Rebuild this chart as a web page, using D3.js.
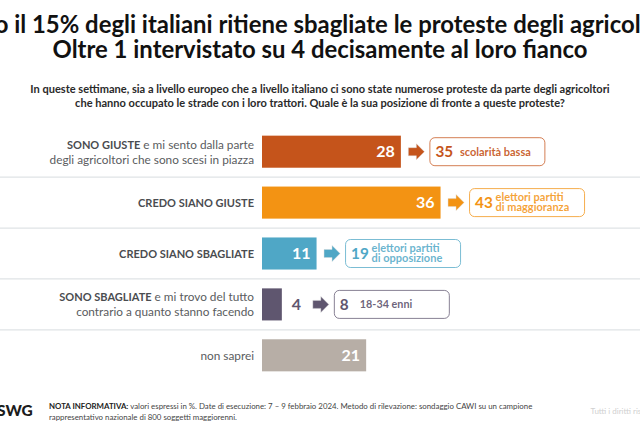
<!DOCTYPE html>
<html><head><meta charset="utf-8">
<script src="https://cdn.jsdelivr.net/npm/d3@7/dist/d3.min.js"></script>
<style>html,body{margin:0;padding:0;background:#fff;overflow:hidden}svg{display:block}text{font-family:Lato,"Open Sans",sans-serif}</style>
</head><body><svg id="c" width="640" height="431"></svg>
<script>
const categories=["SONO GIUSTE","CREDO SIANO GIUSTE","CREDO SIANO SBAGLIATE","SONO SBAGLIATE","non saprei"];
const labelBold=[["SONO GIUSTE"],["CREDO SIANO GIUSTE"],["CREDO SIANO SBAGLIATE"],["SONO SBAGLIATE"],[""]];
const labelLines=[[" e mi sento dalla parte","degli agricoltori che sono scesi in piazza"],[""],[""],[" e mi trovo del tutto","contrario a quanto stanno facendo"],["non saprei"]];
const values=[28,36,11,4,21];
const colors=["#c5541b","#f39313","#4fa7c6","#5f566f","#b7aea6"];
const calloutValues=[35,43,19,8,null];
const calloutLabels=[["scolarità bassa"],["elettori partiti","di maggioranza"],["elettori partiti","di opposizione"],["18-34 enni"],null];
const titleLines=["Solo il 15% degli italiani ritiene sbagliate le proteste degli agricoltori","Oltre 1 intervistato su 4 decisamente al loro fianco"];
const questionLines=["In queste settimane, sia a livello europeo che a livello italiano ci sono state numerose proteste da parte degli agricoltori","che hanno occupato le strade con i loro trattori. Quale è la sua posizione di fronte a queste proteste?"];
const noteBold="NOTA INFORMATIVA:";
const noteLines=[" valori espressi in %. Date di esecuzione: 7 – 9 febbraio 2024. Metodo di rilevazione: sondaggio CAWI su un campione","rappresentativo nazionale di 800 soggetti maggiorenni."];

const svg=d3.select("#c");
const x=d3.scaleLinear().domain([0,100]).range([262,758]);
const y=d3.scaleBand().domain(categories).range([127,380]).paddingInner(0.37).paddingOuter(0.17);
const bw=y.bandwidth();
const step=y.step();

const title=svg.append("text").attr("y",33).attr("text-anchor","middle")
  .attr("font-size",23.9).attr("font-weight",700).attr("fill","#111");
title.selectAll("tspan").data(titleLines).join("tspan")
  .attr("x",320).attr("dy",(d,i)=>i?25:0).text(d=>d);
const question=svg.append("text").attr("y",93).attr("text-anchor","middle")
  .attr("font-size",11.05).attr("font-weight",700).attr("fill","#2a2a2a");
question.selectAll("tspan").data(questionLines).join("tspan")
  .attr("x",320).attr("dy",(d,i)=>i?14:0).text(d=>d);

// separators
svg.append("g").selectAll("line").data(categories.slice(0,4)).join("line")
  .attr("x1",0).attr("x2",640)
  .attr("y1",d=>y(d)+bw+(step-bw)/2).attr("y2",d=>y(d)+bw+(step-bw)/2)
  .attr("stroke","#dfe3e6").attr("stroke-width",1.2);

// bars
svg.append("g").selectAll("rect").data(categories).join("rect")
  .attr("x",x(0)).attr("y",d=>y(d)).attr("height",bw)
  .attr("width",(d,i)=>x(values[i])-x(0)).attr("fill",(d,i)=>colors[i]);

// row labels
const lab=svg.append("g").attr("font-size",11.8).attr("fill","#5a5c60");
categories.forEach((c,i)=>{
  const two=labelLines[i].length===2;
  const cy=y(c)+bw/2;
  const t=lab.append("text").attr("x",254).attr("text-anchor","end")
    .attr("y",two?cy-3:cy+4.3);
  if(labelBold[i][0]) t.append("tspan").attr("font-size",11).attr("font-weight",700).attr("fill","#4a4c50").text(labelBold[i][0]);
  if(labelLines[i][0]) t.append("tspan").attr("xml:space","preserve").text(labelLines[i][0]);
  if(two) lab.append("text").attr("x",254).attr("text-anchor","end").attr("y",cy+12).text(labelLines[i][1]);
});

// value labels
svg.append("g").selectAll("text").data(categories).join("text")
  .attr("x",(d,i)=>values[i]<8?x(values[i])+14.5:x(values[i])-6)
  .attr("y",d=>y(d)+bw/2+5.5)
  .attr("text-anchor",(d,i)=>values[i]<8?"middle":"end")
  .attr("font-size",16).attr("font-weight",700)
  .attr("fill",(d,i)=>values[i]<8?"#5f566f":"#fff")
  .text((d,i)=>values[i]);

// callouts
categories.forEach((c,i)=>{
  if(calloutValues[i]===null) return;
  const cy=y(c)+bw/2;
  const start=x(values[i])+(values[i]<8?31:7.5);
  const g=svg.append("g");
  g.append("path").attr("transform",`translate(${start},${cy})`)
    .attr("d",d3.line()([[0,-4],[8,-4],[8,-8],[16,0],[8,8],[8,4],[0,4]])+"Z")
    .attr("fill",colors[i]).attr("stroke","#d8d8d8").attr("stroke-width",0.4);
  const bx=start+21.5;
  g.append("rect").attr("x",bx).attr("y",cy-14).attr("width",115).attr("height",28)
    .attr("rx",5).attr("fill","#fff").attr("stroke",colors[i]).attr("stroke-opacity",0.75).attr("stroke-width",1);
  g.append("text").attr("x",bx+5.5).attr("y",cy+5.5).attr("font-size",15.3).attr("font-weight",700)
    .attr("fill",colors[i]).text(calloutValues[i]);
  const L=calloutLabels[i];
  if(L.length===1){
    g.append("text").attr("x",bx+(i===3?25.5:30)).attr("y",cy+4).attr("font-size",i===3?10.8:11).attr("font-weight",700)
     .attr("fill",colors[i]).attr("fill-opacity",0.92).text(L[0]);
  } else {
    const t=g.append("text").attr("y",cy-2).attr("font-size",11).attr("font-weight",700)
      .attr("fill",colors[i]).attr("fill-opacity",0.85);
    t.selectAll("tspan").data(L).join("tspan").attr("x",bx+26).attr("dy",(d,k)=>k?10.5:0).text(d=>d);
  }
});

// footer
svg.append("text").attr("x",-3).attr("y",416).attr("font-size",15.5).attr("font-weight",900).attr("fill","#1c1c1c").text("SWG");
const n=svg.append("g").attr("font-size",7.85).attr("fill","#444");
const t0=n.append("text").attr("x",49).attr("y",409);
t0.append("tspan").attr("font-weight",700).attr("fill","#222").text(noteBold);
t0.append("tspan").text(noteLines[0]);
n.append("text").attr("x",49).attr("y",420).text(noteLines[1]);
svg.append("text").attr("x",590.5).attr("y",414).attr("font-size",8).attr("fill","#d0d0d0").text("Tutti i diritti riservati");
</script></body></html>
